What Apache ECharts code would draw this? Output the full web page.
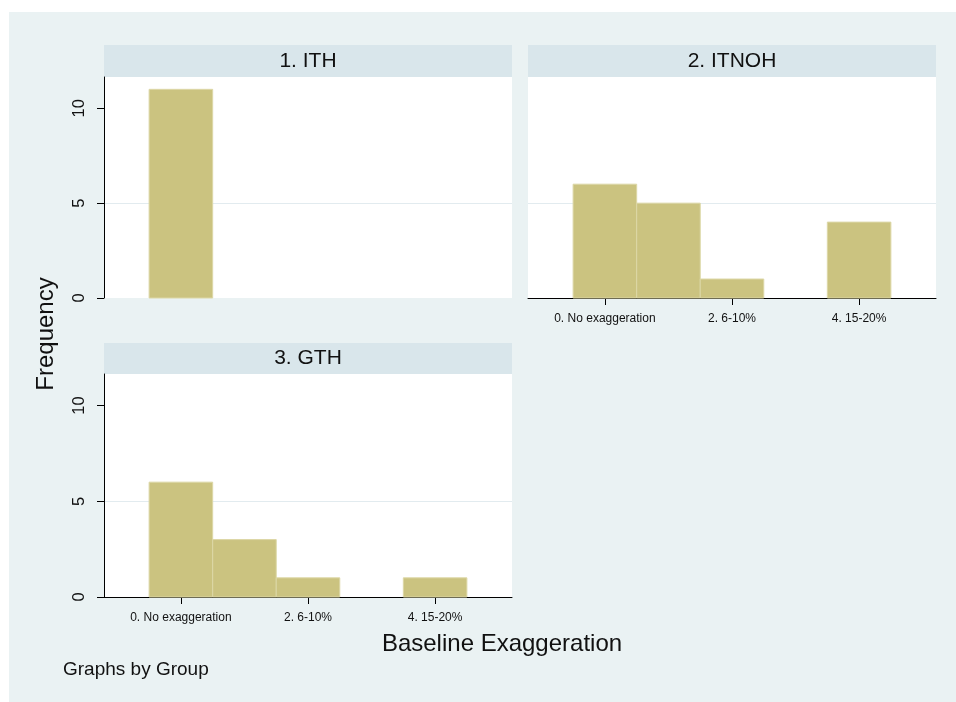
<!DOCTYPE html>
<html>
<head>
<meta charset="utf-8">
<script src="https://cdn.jsdelivr.net/npm/echarts@6/dist/echarts.min.js"></script>
<style>
  html, body { margin: 0; padding: 0; background: #fff; }
  #main { width: 956px; height: 702px; }
</style>
</head>
<body>
<div id="main"></div>
<script>
// baseline exaggeration levels (0..4) and the labelled ones
const levels = [0, 1, 2, 3, 4];
const tickValues = [0, 2, 4];
const tickLabels = ['0. No exaggeration', '2. 6-10%', '4. 15-20%'];
const yTicks = [0, 5, 10];
const groups = ['1. ITH', '2. ITNOH', '3. GTH'];

// frequencies per level, one array per group
const ithFreq = [11, 0, 0, 0, 0];
const itnohFreq = [6, 5, 1, 0, 4];
const gthFreq = [6, 3, 1, 0, 1];

const FONT = 'Liberation Sans, Arial, sans-serif';
const BAR_FILL = '#cbc380';
const BAR_EDGE = '#dcd7a6';
const GRID_LINE = '#e2ebef';

const dom = document.getElementById('main');
const chart = echarts.init(dom);

function toPoints(freq) {
  return levels.map((lv, i) => [lv, freq[i]]).filter((p) => p[1] > 0);
}

function renderBar(params, api) {
  const x = api.value(0);
  const y = api.value(1);
  const top = api.coord([x - 0.5, y]);
  const bottom = api.coord([x + 0.5, 0]);
  return {
    type: 'rect',
    shape: { x: top[0], y: top[1], width: bottom[0] - top[0], height: bottom[1] - top[1] },
    style: { fill: BAR_FILL, stroke: BAR_EDGE, lineWidth: 1 },
  };
}

function xAxisFor(gridIndex, show) {
  return {
    type: 'value',
    gridIndex,
    min: -1.21,
    max: 5.21,
    splitLine: { show: false },
    axisLine: { show: show, onZero: false, lineStyle: { color: '#000', width: 1 } },
    axisTick: { show: show, customValues: tickValues, length: 7, lineStyle: { color: '#000' } },
    axisLabel: {
      show: show,
      customValues: tickValues,
      formatter: (v) => tickLabels[tickValues.indexOf(v)],
      fontSize: 12,
      color: '#111',
      margin: 15,
      fontFamily: FONT,
    },
  };
}

function yAxisFor(gridIndex, show) {
  return {
    type: 'value',
    gridIndex,
    min: 0,
    max: 11.65,
    interval: 5,
    axisLine: { show: show, onZero: false, lineStyle: { color: '#000', width: 1 } },
    axisTick: { show: show, customValues: yTicks, length: 7, lineStyle: { color: '#000' } },
    axisLabel: {
      show: show,
      customValues: yTicks,
      rotate: 90,
      fontSize: 16.5,
      color: '#111',
      margin: 16,
      fontFamily: FONT,
    },
    splitLine: {
      show: true,
      showMinLine: false,
      showMaxLine: false,
      lineStyle: { color: GRID_LINE, width: 1 },
    },
  };
}

function header(x, y, w, h, text) {
  return [
    { type: 'rect', shape: { x, y, width: w, height: h }, style: { fill: '#d9e6eb' }, z: -50 },
    {
      type: 'text',
      x: x + w / 2,
      y: y + h / 2,
      style: { text, fontSize: 21, fontFamily: FONT, fill: '#111', align: 'center', verticalAlign: 'middle' },
    },
  ];
}

const gridBase = { show: true, backgroundColor: '#fff', borderWidth: 0 };

const option = {
  animation: false,
  backgroundColor: '#fff',
  grid: [
    Object.assign({ left: 104, top: 77, width: 408, height: 221 }, gridBase),
    Object.assign({ left: 528, top: 77, width: 408, height: 221 }, gridBase),
    Object.assign({ left: 104, top: 374, width: 408, height: 223 }, gridBase),
  ],
  xAxis: [xAxisFor(0, false), xAxisFor(1, true), xAxisFor(2, true)],
  yAxis: [yAxisFor(0, true), yAxisFor(1, false), yAxisFor(2, true)],
  series: [
    { type: 'custom', xAxisIndex: 0, yAxisIndex: 0, renderItem: renderBar, encode: { x: 0, y: 1 }, data: toPoints(ithFreq) },
    { type: 'custom', xAxisIndex: 1, yAxisIndex: 1, renderItem: renderBar, encode: { x: 0, y: 1 }, data: toPoints(itnohFreq) },
    { type: 'custom', xAxisIndex: 2, yAxisIndex: 2, renderItem: renderBar, encode: { x: 0, y: 1 }, data: toPoints(gthFreq) },
  ],
  graphic: [
    { type: 'rect', shape: { x: 9, y: 12, width: 947, height: 690 }, style: { fill: '#eaf2f3' }, z: -100 },
    ...header(104, 45, 408, 32, groups[0]),
    ...header(528, 45, 408, 32, groups[1]),
    ...header(104, 343, 408, 31, groups[2]),
    {
      type: 'text',
      x: 46,
      y: 334,
      rotation: Math.PI / 2,
      style: { text: 'Frequency', fontSize: 24, fontFamily: FONT, fill: '#111', align: 'center', verticalAlign: 'middle' },
    },
    {
      type: 'text',
      x: 502,
      y: 644,
      style: { text: 'Baseline Exaggeration', fontSize: 24, fontFamily: FONT, fill: '#111', align: 'center', verticalAlign: 'middle' },
    },
    {
      type: 'text',
      x: 63,
      y: 670,
      style: { text: 'Graphs by Group', fontSize: 19, fontFamily: FONT, fill: '#111', align: 'left', verticalAlign: 'middle' },
    },
  ],
};

chart.setOption(option);
</script>
</body>
</html>
